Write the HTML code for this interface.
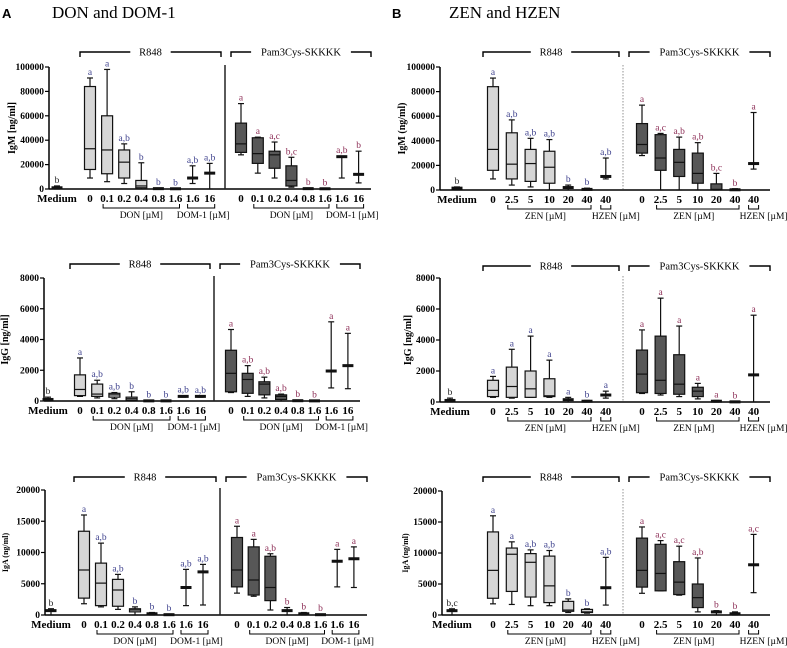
<!DOCTYPE html>
<html><head><meta charset="utf-8">
<style>
html,body{margin:0;padding:0;background:#fff;}
svg{display:block;font-family:"Liberation Serif",serif;}
text{font-family:"Liberation Serif",serif;}
.tick{font-size:9.5px;font-weight:bold;}
.xl{font-size:11px;font-weight:bold;}
.sub{font-size:9.5px;}
</style></head>
<body>
<svg id="fig" width="787" height="648" viewBox="0 0 787 648" xmlns="http://www.w3.org/2000/svg">
<text x="2" y="18" style="font-family:'Liberation Sans',sans-serif" font-weight="bold" font-size="13">A</text>
<text x="52" y="18" font-size="17">DON and DOM-1</text>
<text x="392" y="18" style="font-family:'Liberation Sans',sans-serif" font-weight="bold" font-size="13">B</text>
<text x="449" y="18" font-size="17">ZEN and HZEN</text>
</svg>
<script>
// ---- data ----
const aCats = ["0","0.1","0.2","0.4","0.8","1.6","1.6","16"];
const bCats = ["0","2.5","5","10","20","40","40"];
const aSub = ["DON [\u00b5M]","DOM-1 [\u00b5M]"];
const bSub = ["ZEN [\u00b5M]","HZEN [\u00b5M]"];
const igmTicks = [0,20000,40000,60000,80000,100000];
const iggTicks = [0,2000,4000,6000,8000];
const igaTicks = [0,5000,10000,15000,20000];

// stats: [min,q1,median,q3,max]
const a1Med = [0,500,1000,1500,2500];
const a1R = [[9000,16000,33000,84000,91000],[6000,12500,32000,60000,98000],[4500,9000,22000,32000,37000],[0,1000,2500,7000,21500],[0,0,300,500,800],[0,0,200,400,600],[4500,8500,9000,9500,19000],[0,12500,13000,13500,21000]];
const a1P = [[28000,30000,37000,54000,70000],[13000,21000,29000,42000,42500],[9000,17000,28000,31000,38500],[1500,2500,7000,19000,26000],[0,0,300,500,800],[0,0,200,300,500],[9000,26000,26500,27000,27000],[5000,11500,12000,12500,31000]];
const a1RL = ["a","a","a,b","b","b","b","a,b","a,b"];
const a1PL = ["a","a","a,c","b,c","b","b","a,b","b"];

const a2Med = [0,50,100,150,250];
const a2R = [[300,350,750,1700,2800],[200,300,450,1100,1350],[150,250,400,500,550],[0,50,150,250,600],[0,0,10,20,30],[0,0,10,20,30],[250,280,300,320,350],[250,280,300,320,330]];
const a2P = [[550,600,1800,3300,4650],[300,500,1400,1800,2300],[200,400,1100,1250,1550],[0,100,300,400,450],[0,0,20,40,60],[0,0,10,20,30],[850,1900,1950,2000,5150],[800,2250,2300,2350,4400]];
const a2RL = ["a","a,b","a,b","b","b","b","a,b","a,b"];
const a2PL = ["a","a,b","a,b","a,b","b","b","a","a"];

const a3Med = [0,500,700,900,1000];
const a3R = [[1800,2700,7200,13400,16000],[1300,1500,5100,8300,11500],[900,1400,4000,5700,6500],[0,500,800,1000,1300],[0,100,200,300,400],[0,0,50,100,150],[1500,4300,4400,4500,7300],[1600,6800,6900,7000,8100]];
const a3P = [[3500,4500,7200,12400,14200],[3000,3200,5600,10900,12100],[800,2300,4400,9400,9800],[0,500,700,900,1200],[0,100,200,300,400],[0,0,50,100,150],[4500,8500,8600,8700,10500],[4400,8900,9000,9100,10900]];
const a3RL = ["a","a,b","a,b","b","b","b","a,b","a,b"];
const a3PL = ["a","a","a,b","b","b","b","a","a"];

const b1Med = [0,500,1500,2000,2500];
const b1R = [[9000,16000,33000,84000,91000],[4000,9000,21000,46500,57000],[2500,7000,21500,33000,42000],[0,5500,18500,31500,41000],[0,1000,2000,3000,4000],[0,0,500,1000,1500],[9000,10500,11000,11500,26000]];
const b1P = [[28000,30000,37000,54000,69000],[0,16000,26000,45000,46000],[0,11000,22500,33000,43000],[0,5500,13500,30000,38500],[0,0,500,5000,13500],[0,0,200,500,1000],[17000,21000,21500,22000,63000]];
const b1RL = ["a","a,b","a,b","a,b","b","b","a,b"];
const b1PL = ["a","a,c","a,b","a,b","b,c","b","a"];

const b2Med = [0,50,100,150,250];
const b2R = [[300,350,750,1400,1650],[250,300,1000,2250,3400],[300,300,850,2000,4250],[300,350,400,1500,2700],[0,50,150,200,300],[0,20,50,80,100],[250,400,450,500,700]];
const b2P = [[550,600,1800,3350,4650],[450,550,1400,4250,6700],[350,500,1150,3050,4900],[200,350,700,950,1200],[0,20,50,80,100],[0,0,10,20,30],[0,1700,1750,1800,5600]];
const b2RL = ["a","a","a","a","a","b","a"];
const b2PL = ["a","a","a","a","a","b","a"];

const b3Med = [0,500,700,900,1000];
const b3R = [[1800,2700,7200,13400,16000],[1700,3800,9800,10800,11800],[1500,2900,8500,9900,10500],[1500,2000,4700,9500,10400],[400,600,800,2200,2600],[300,400,500,900,1000],[1600,4300,4400,4500,9300]];
const b3P = [[3500,4500,7200,12400,14200],[3900,3900,6700,11400,12000],[3200,3300,5300,8600,11100],[500,1200,2800,5000,9200],[0,300,500,600,700],[0,100,200,300,500],[3600,8000,8100,8200,13000]];
const b3RL = ["a","a","a,b","a,b","b","b","a,b"];
const b3PL = ["a","a,c","a,c","a,b","b","b","a,c"];

// ---- drawing ----
const NS="http://www.w3.org/2000/svg";
const svg=document.getElementById('fig');
function mk(tag,attrs,parent,text){const e=document.createElementNS(NS,tag);for(const k in attrs)e.setAttribute(k,attrs[k]);if(text!==undefined)e.textContent=text;(parent||svg).appendChild(e);return e;}
const BLUE="#3c3f8c", RED="#8c2c55";

function panel(p){
  const g=mk('g',{});
  
  
  const max=p.ticks[p.ticks.length-1];
  const Y=v=>p.y0-(v/max)*(p.y0-p.yTop);
  const ya=mk('line',{x1:p.ax,y1:p.yTop,x2:p.ax,y2:p.y0,stroke:'#000','stroke-width':1.5},g);
  
  p.ticks.forEach(t=>{
    mk('line',{x1:p.ax-4,y1:Y(t),x2:p.ax,y2:Y(t),stroke:'#000','stroke-width':1.2},g);
    const tl=mk('text',{x:p.ax-5,y:Y(t)+3,'text-anchor':'end',class:'tick'},g,String(t));
    
  });
  const yt=mk('text',{x:0,y:0,'text-anchor':'middle','font-weight':'bold','font-size':p.ytSize,transform:`translate(${p.ytX},${(p.y0+p.yTop)/2}) rotate(-90)`},g,p.ytitle);
  
  const xa=mk('line',{x1:p.ax,y1:p.y0,x2:p.xEnd,y2:p.y0,stroke:'#000','stroke-width':1.5},g);
  
  const sp=mk('line',{x1:p.sep,y1:p.yTop-2,x2:p.sep,y2:p.y0,stroke:p.dotted?'#777':'#222','stroke-width':p.dotted?0.8:1.5,'stroke-dasharray':p.dotted?'1.5,1.5':'none'},g);
  
  const ly=p.y0+13;
  const ml=mk('text',{x:p.medX,y:ly,'text-anchor':'middle',class:'xl'},g,'Medium');
  
  function box(x,s,fill,col,letter,nm){
    const bg=mk('g',{},g);
    
    const w=p.bw/2;
    mk('line',{x1:x,y1:Y(s[0]),x2:x,y2:Y(s[4]),stroke:'#111','stroke-width':1.2},bg);
    mk('line',{x1:x-3,y1:Y(s[0]),x2:x+3,y2:Y(s[0]),stroke:'#111','stroke-width':1.2},bg);
    mk('line',{x1:x-3,y1:Y(s[4]),x2:x+3,y2:Y(s[4]),stroke:'#111','stroke-width':1.2},bg);
    if(Y(s[1])-Y(s[3])>2.5){
      mk('rect',{x:x-w,y:Y(s[3]),width:2*w,height:Y(s[1])-Y(s[3]),fill:fill,stroke:'#111','stroke-width':1.2},bg);
      mk('line',{x1:x-w,y1:Y(s[2]),x2:x+w,y2:Y(s[2]),stroke:'#111','stroke-width':1.2},bg);
    } else {
      mk('rect',{x:x-w,y:Y(s[2])-1.5,width:2*w,height:3,fill:'#111'},bg);
    }
    const lt=mk('text',{x:x,y:Y(s[4])-3,'text-anchor':'middle','font-size':9.5,fill:col},bg,letter);
    
  }
  box(p.medX,p.med,'#3a3a3a','#222',p.medL,'box-medium');
  function group(x0,step,stats,letters,fill,col,pre){
    stats.forEach((s,i)=>{
      const x=x0+step*i;
      box(x,s,fill,col,letters[i],pre+'-box-'+i);
      const t=mk('text',{x:x,y:ly,'text-anchor':'middle',class:'xl'},g,p.cats[i]);
      
    });
    const n=stats.length;
    const by=ly+6;
    const a=x0+step*1-4, b=x0+step*(p.split-1)+4, c=x0+step*p.split-5, d=x0+step*(n-1)+5;
    const br1=mk('path',{d:`M${a},${by-4}V${by}H${b}V${by-4}`,fill:'none',stroke:'#000','stroke-width':1},g);
    
    const br2=mk('path',{d:`M${c},${by-4}V${by}H${d}V${by-4}`,fill:'none',stroke:'#000','stroke-width':1},g);
    
    const s1=mk('text',{x:(a+b)/2+(n===7?-4:0),y:by+10,'text-anchor':'middle',class:'sub'},g,p.sub[0]);
    
    const s2=mk('text',{x:(c+d)/2+(n===7?10:2),y:by+10,'text-anchor':'middle',class:'sub'},g,p.sub[1]);
    
  }
  group(p.x0,p.step,p.R,p.RL,'#d6d6d6',BLUE,'r848');
  group(p.px0,p.pstep,p.P,p.PL,'#575757',RED,'pam3cys');
  function topB(x1,x2,label,nm){
    const by=p.bY, mid=(x1+x2)/2, hw=label.length*3.3+7;
    const pth=mk('path',{d:`M${x1},${by+5}V${by}H${mid-hw}M${mid+hw},${by}H${x2}V${by+5}`,fill:'none',stroke:'#000','stroke-width':1.4},g);
    
    const t=mk('text',{x:mid,y:by+3.5,'text-anchor':'middle','font-size':10.5},g,label);
    
  }
  topB(p.x0-10,p.sep-4,'R848','r848-group');
  topB(p.sep+6,p.xEnd,'Pam3Cys-SKKKK','pam3cys-group');
}

panel({name:'panel-a-igm',ticks:igmTicks,ytitle:'IgM [ng/ml]',ytSize:10,ytX:15,ax:49,yTop:67,y0:189,xEnd:371,sep:225,dotted:false,medX:57,x0:90,step:17.1,px0:241,pstep:16.8,bw:11,bY:52,cats:aCats,sub:aSub,split:6,med:a1Med,medL:'b',R:a1R,RL:a1RL,P:a1P,PL:a1PL});
panel({name:'panel-a-igg',ticks:iggTicks,ytitle:'IgG [ng/ml]',ytSize:10,ytX:8,ax:44,yTop:278,y0:401,xEnd:360,sep:214,dotted:false,medX:48,x0:80,step:17.2,px0:231,pstep:16.7,bw:11,bY:264,cats:aCats,sub:aSub,split:6,med:a2Med,medL:'b',R:a2R,RL:a2RL,P:a2P,PL:a2PL});
panel({name:'panel-a-iga',ticks:igaTicks,ytitle:'IgA (ng/ml)',ytSize:8,ytX:8,ax:45,yTop:490,y0:615,xEnd:367,sep:220,dotted:false,medX:51,x0:84,step:17,px0:237,pstep:16.7,bw:11,bY:477,cats:aCats,sub:aSub,split:6,med:a3Med,medL:'b',R:a3R,RL:a3RL,P:a3P,PL:a3PL});
panel({name:'panel-b-igm',ticks:igmTicks,ytitle:'IgM (ng/ml)',ytSize:10,ytX:405,ax:440,yTop:67,y0:190,xEnd:770,sep:623,dotted:true,medX:457,x0:493,step:18.8,px0:642,pstep:18.6,bw:11,bY:52,cats:bCats,sub:bSub,split:6,med:b1Med,medL:'b',R:b1R,RL:b1RL,P:b1P,PL:b1PL});
panel({name:'panel-b-igg',ticks:iggTicks,ytitle:'IgG [ng/ml]',ytSize:10,ytX:411,ax:440,yTop:278,y0:402,xEnd:770,sep:623,dotted:true,medX:450,x0:493,step:18.8,px0:642,pstep:18.6,bw:11,bY:266,cats:bCats,sub:bSub,split:6,med:b2Med,medL:'b',R:b2R,RL:b2RL,P:b2P,PL:b2PL});
panel({name:'panel-b-iga',ticks:igaTicks,ytitle:'IgA (ng/ml)',ytSize:8,ytX:408,ax:442,yTop:491,y0:615,xEnd:770,sep:623,dotted:true,medX:452,x0:493,step:18.8,px0:642,pstep:18.6,bw:11,bY:477,cats:bCats,sub:bSub,split:6,med:b3Med,medL:'b,c',R:b3R,RL:b3RL,P:b3P,PL:b3PL});
</script>
</body></html>
